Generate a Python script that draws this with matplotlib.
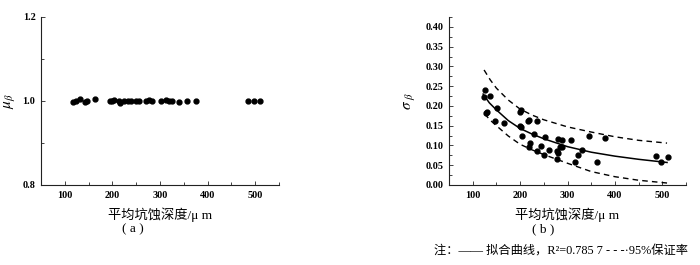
import matplotlib
matplotlib.use("Agg")
import matplotlib.pyplot as plt
from matplotlib.ticker import MultipleLocator, FixedLocator

plt.rcParams['mathtext.fontset'] = 'stix'
SERIF = ['Liberation Serif', 'Noto Sans CJK SC']

# ---- panel (a): mean of beta ----
a_depth = [118, 123, 132, 143, 147, 164, 196, 200, 203, 214, 216, 224, 232, 239,
           249, 256, 270, 277, 284, 303, 312, 319, 325, 339, 357, 375, 484, 497, 510]
a_mu = [0.998, 1.001, 1.004, 0.998, 1.000, 1.005, 1.000, 0.999, 1.002, 1.000, 0.995,
        1.000, 1.001, 1.001, 1.001, 1.000, 1.000, 1.002, 1.001, 1.001, 1.002, 1.001,
        1.000, 0.998, 1.000, 1.000, 1.001, 1.000, 1.000]

# ---- panel (b): std of beta ----
b_depth = [123, 126, 136, 128, 131, 151, 147, 167, 199, 202, 200, 202, 204, 216, 218,
           236, 230, 218, 221, 236, 244, 253, 251, 261, 279, 289, 277, 281, 278, 284,
           289, 308, 316, 323, 331, 346, 363, 380, 486, 497, 512]
b_sigma = [0.222, 0.240, 0.226, 0.182, 0.184, 0.195, 0.161, 0.157, 0.150, 0.146, 0.184,
           0.190, 0.123, 0.161, 0.165, 0.163, 0.129, 0.095, 0.107, 0.086, 0.098, 0.121,
           0.076, 0.089, 0.116, 0.114, 0.085, 0.082, 0.065, 0.097, 0.095, 0.114, 0.059,
           0.076, 0.089, 0.123, 0.059, 0.119, 0.074, 0.057, 0.072]

fit_x = [122, 135, 150, 175, 200, 225, 250, 300, 350, 400, 450, 510]
fit_y = [0.230, 0.208, 0.190, 0.163, 0.143, 0.129, 0.117, 0.097, 0.083, 0.073, 0.065, 0.057]
up_x = [124, 137, 150, 175, 200, 225, 250, 300, 350, 400, 450, 510]
up_y = [0.291, 0.266, 0.245, 0.215, 0.192, 0.177, 0.165, 0.147, 0.134, 0.122, 0.113, 0.106]
lo_x = [125, 137, 150, 175, 200, 225, 250, 300, 350, 400, 450, 510]
lo_y = [0.180, 0.164, 0.150, 0.124, 0.103, 0.089, 0.077, 0.055, 0.034, 0.021, 0.012, 0.005]

xticks = [100, 200, 300, 400, 500]

fig = plt.figure(figsize=(7.0, 2.65), dpi=100)
ax1 = fig.add_axes([41/700, 80/265, 238/700, 168/265])
ax2 = fig.add_axes([449/700, 80/265, 237/700, 168/265])

def style(ax):
    for s in ['top', 'right']:
        ax.spines[s].set_visible(False)
    for s in ['left', 'bottom']:
        ax.spines[s].set_linewidth(0.8)
        ax.spines[s].set_color('#222222')
    ax.tick_params(which='both', direction='in', width=0.6, color='#222222')
    ax.tick_params(which='major', length=3, pad=4)
    ax.tick_params(which='minor', length=2)
    ax.set_xlim(50, 550)
    ax.xaxis.set_major_locator(FixedLocator(xticks))
    ax.xaxis.set_minor_locator(MultipleLocator(50))
    for lab in ax.get_xticklabels() + ax.get_yticklabels():
        lab.set_fontfamily(SERIF)
        lab.set_fontsize(7.3)
        lab.set_fontweight('bold')
    ax.set_xlabel('平均坑蚀深度/μ m', fontsize=9.5, family=SERIF, labelpad=6)

ax1.plot(a_depth, a_mu, 'o', color='black', ms=3.5, mec='black')
ax1.set_ylim(0.8, 1.2)
ax1.set_yticks([0.8, 1.0, 1.2])
ax1.yaxis.set_minor_locator(FixedLocator([0.9, 1.1]))
ax1.set_yticklabels(['0.8', '1.0', '1.2'])
style(ax1)
ax1.set_ylabel(r'$\mu_\beta$', fontsize=11, labelpad=4)

ax2.plot(b_depth, b_sigma, 'o', color='black', ms=3.5, mec='black')
ax2.plot(fit_x, fit_y, '-', color='black', lw=1.1)
ax2.plot(up_x, up_y, '--', color='black', lw=1.0, dashes=(4, 3))
ax2.plot(lo_x, lo_y, '--', color='black', lw=1.0, dashes=(4, 3))
ax2.set_ylim(0, 0.425)
ax2.set_yticks([0.0, 0.05, 0.10, 0.15, 0.20, 0.25, 0.30, 0.35, 0.40])
ax2.set_yticklabels(['0.00', '0.05', '0.10', '0.15', '0.20', '0.25', '0.30', '0.35', '0.40'])
ax2.yaxis.set_minor_locator(MultipleLocator(0.025))
style(ax2)
ax2.set_ylabel(r'$\sigma_{\ \beta}$', fontsize=11, labelpad=6)

fig.text(133/700, 1 - 229/265, '( a )', ha='center', va='center', fontsize=9.5, family=SERIF)
fig.text(543/700, 1 - 229/265, '( b )', ha='center', va='center', fontsize=9.5, family=SERIF)
fig.text(688/700, 1 - 251/265, '注：—— 拟合曲线，R²=0.785 7 - - -·95%保证率',
         ha='right', va='center', fontsize=8.8, family=SERIF)

fig.savefig('out.png', dpi=100, facecolor='white')
